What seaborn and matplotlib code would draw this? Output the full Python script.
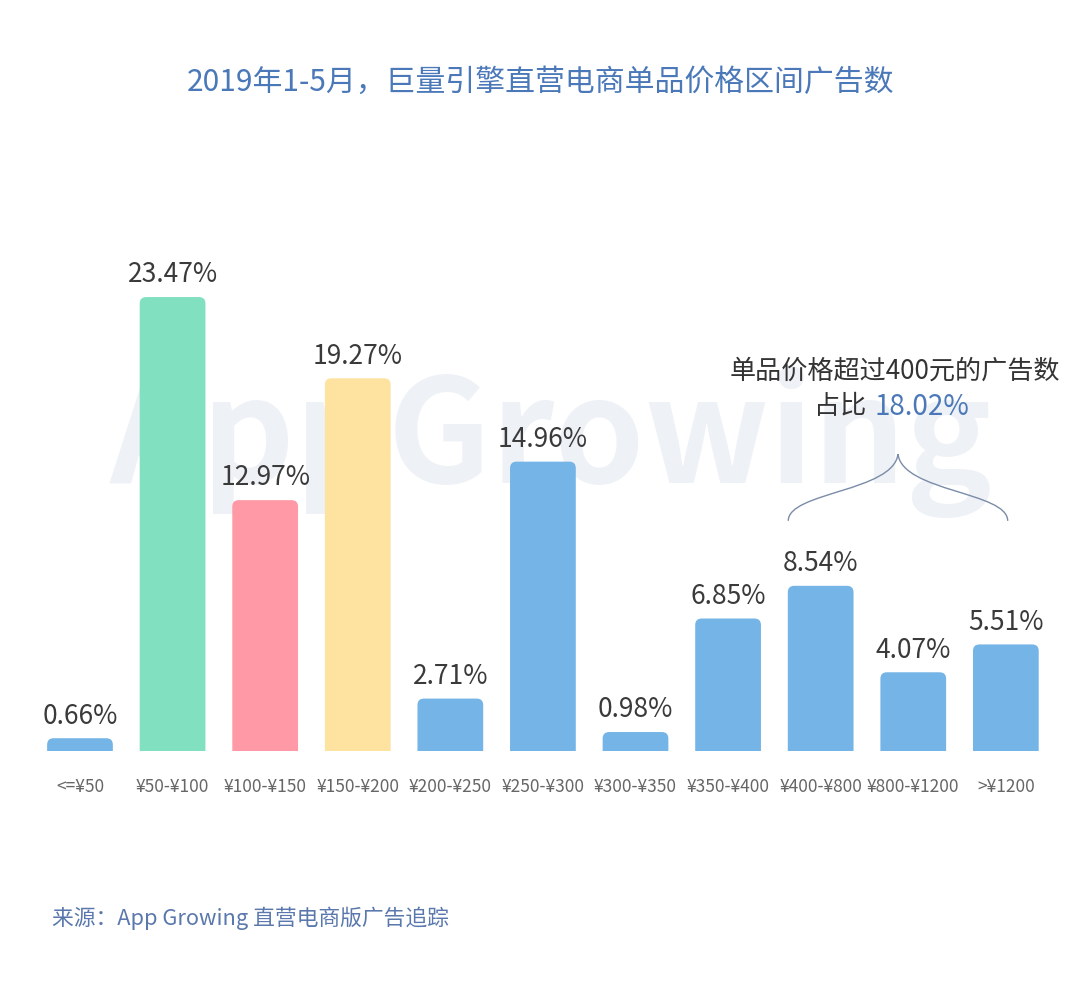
import matplotlib
matplotlib.use('Agg')
import matplotlib.pyplot as plt
import seaborn as sns
import pandas as pd
from matplotlib.path import Path
from matplotlib.patches import PathPatch, FancyBboxPatch

# dados
faixas = ['<=¥50', '¥50-¥100', '¥100-¥150', '¥150-¥200', '¥200-¥250', '¥250-¥300',
          '¥300-¥350', '¥350-¥400', '¥400-¥800', '¥800-¥1200', '>¥1200']
valores = [0.66, 23.47, 12.97, 19.27, 2.71, 14.96, 0.98, 6.85, 8.54, 4.07, 5.51]
cores = ['#74b4e6', '#80e0c0', '#fe99a5', '#fee29f', '#74b4e6', '#74b4e6',
         '#74b4e6', '#74b4e6', '#74b4e6', '#74b4e6', '#74b4e6']
titulo = '2019年1-5月，巨量引擎直营电商单品价格区间广告数'
nota_linha1 = '单品价格超过400元的广告数'
nota_prefixo = '占比'
nota_valor = '18.02%'
fonte = '来源：App Growing 直营电商版广告追踪'

sns.set_theme(style='white')
plt.rcParams['font.family'] = ['Noto Sans CJK SC', 'DejaVu Sans']

df = pd.DataFrame({'faixa': faixas, 'valor': valores})

fig = plt.figure(figsize=(10.8, 9.87), dpi=100)

# marca d'água num eixo de fundo
ax_bg = fig.add_axes([0, 0, 1, 1], zorder=-1)
ax_bg.axis('off')
ax_bg.text(0.51, 0.552, 'AppGrowing', ha='center', va='center', fontsize=104,
           fontweight='bold', color='#eef1f6', style='italic')

ax = fig.add_axes([0.0312, 0.2381, 0.943, 0.4899])
ax.set_facecolor('none')

sns.barplot(data=df, x='faixa', y='valor', hue='faixa', palette=cores,
            legend=False, width=0.71, ax=ax, saturation=1)

# cantos superiores arredondados
for p in list(ax.patches):
    x, w, h = p.get_x(), p.get_width(), p.get_height()
    cor = p.get_facecolor()
    p.remove()
    ax.add_patch(FancyBboxPatch((x, -0.6), w, h + 0.6,
                                boxstyle='round,pad=0,rounding_size=0.07',
                                mutation_aspect=4.79, facecolor=cor,
                                edgecolor='none', clip_on=True))

for i, v in enumerate(valores):
    ax.text(i, v + 0.5, f'{v:.2f}%', ha='center', va='bottom',
            fontsize=19, color='#3a3a3a')

ax.set_xlim(-0.5, len(faixas) - 0.5)
ax.set_ylim(0, 25)
ax.set_xlabel('')
ax.set_ylabel('')
ax.set_yticks([])
ax.tick_params(axis='x', length=0, labelsize=12.5, labelcolor='#666666', pad=19)
sns.despine(ax=ax, left=True, bottom=True)

# chave sobre as faixas acima de 400
x0, x1 = 7.65, 10.02
xm = (x0 + x1) / 2
yb, yt, ym = 11.9, 15.35, 13.4
verts = [(x0, yb), (x0, ym), (xm - 0.05, ym), (xm, yt),
         (xm + 0.05, ym), (x1, ym), (x1, yb)]
codes = [Path.MOVETO, Path.CURVE4, Path.CURVE4, Path.CURVE4,
         Path.CURVE4, Path.CURVE4, Path.CURVE4]
ax.add_patch(PathPatch(Path(verts, codes), fill=False, lw=1, edgecolor='#7a8ca8'))

fig.text(0.5, 0.917, titulo, ha='center', va='center', fontsize=21.5,
         fontweight='medium', color='#4a78b8')
fig.text(0.829, 0.624, nota_linha1, ha='center', va='center',
         fontsize=18.8, color='#333333')
fig.text(0.802, 0.588, nota_prefixo, ha='right', va='center', fontsize=18.8,
         color='#333333')
fig.text(0.810, 0.588, nota_valor, ha='left', va='center', fontsize=20,
         color='#4a78b8')
fig.text(0.048, 0.07, fonte, ha='left', va='center', fontsize=15.7,
         color='#5a78ad')

fig.savefig('out.png', dpi=100, facecolor='white')
